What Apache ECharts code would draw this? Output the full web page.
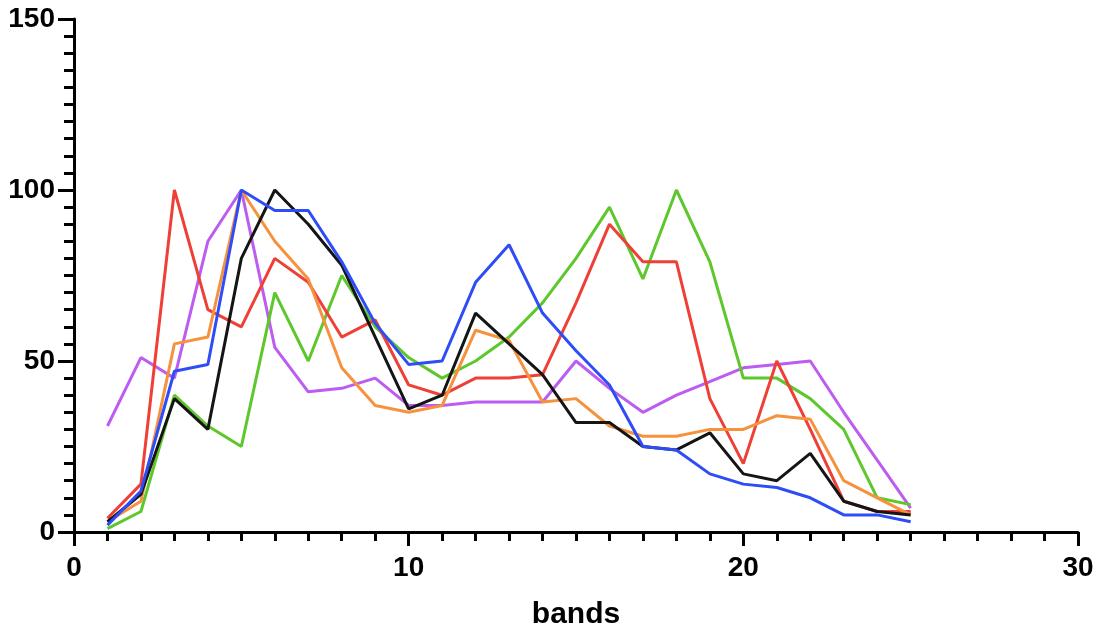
<!DOCTYPE html>
<html>
<head>
<meta charset="utf-8">
<script src="https://cdn.jsdelivr.net/npm/echarts@6/dist/echarts.min.js"></script>
<style>
  html, body { margin: 0; padding: 0; background: #fff; }
  #chart { width: 1106px; height: 634px; }
</style>
</head>
<body>
<div id="chart"></div>
<script>
// band index 1..25
const bands = [1,2,3,4,5,6,7,8,9,10,11,12,13,14,15,16,17,18,19,20,21,22,23,24,25];

const purpleVals = [31,51,45,85,100,54,41,42,45,37,37,38,38,38,50,42,35,40,44,48,49,50,35,21,7];
const greenVals  = [1,6,40,31,25,70,50,75,60,51,45,50,57,67,80,95,74,100,79,45,45,39,30,10,8];
const redVals    = [4,14,100,65,60,80,73,57,62,43,40,45,45,46,67,90,79,79,39,20,50,30,9,6,6];
const orangeVals = [3,9,55,57,100,85,74,48,37,35,37,59,56,38,39,31,28,28,30,30,34,33,15,10,5];
const blackVals  = [3,11,39,30,80,100,90,78,57,36,40,64,55,46,32,32,25,24,29,17,15,23,9,6,5];
const blueVals   = [2,12,47,49,100,94,94,79,61,49,50,73,84,64,53,43,25,24,17,14,13,10,5,5,3];

const xTicks = [0, 10, 20, 30];
const yTicks = [0, 50, 100, 150];

const seriesDefs = [
  { name: 'purple', color: '#BD5CF0', values: purpleVals },
  { name: 'green',  color: '#5DC72C', values: greenVals },
  { name: 'red',    color: '#EE4036', values: redVals },
  { name: 'orange', color: '#F6923E', values: orangeVals },
  { name: 'black',  color: '#151515', values: blackVals },
  { name: 'blue',   color: '#2E4DF6', values: blueVals }
];

const labelFont = {
  color: '#000',
  fontFamily: 'Liberation Sans, Arial, sans-serif',
  fontWeight: 'bold',
  fontSize: 28
};

const chart = echarts.init(document.getElementById('chart'), null, { renderer: 'canvas' });

chart.setOption({
  animation: false,
  backgroundColor: '#fff',
  grid: {
    left: 74, right: 28, top: 19, bottom: 102,
    containLabel: false,
    outerBoundsMode: 'none'
  },
  xAxis: {
    type: 'value',
    min: xTicks[0],
    max: xTicks[xTicks.length - 1],
    interval: 10,
    name: 'bands',
    nameLocation: 'middle',
    nameGap: 68,
    nameTextStyle: Object.assign({}, labelFont, { fontSize: 30 }),
    axisLine: { show: true, lineStyle: { color: '#000', width: 3 } },
    axisTick: { show: true, length: 14, lineStyle: { color: '#000', width: 3 } },
    minorTick: { show: true, splitNumber: 10, length: 9, lineStyle: { color: '#000', width: 3 } },
    axisLabel: Object.assign({ margin: 22 }, labelFont),
    splitLine: { show: false },
    minorSplitLine: { show: false }
  },
  yAxis: {
    type: 'value',
    min: yTicks[0],
    max: yTicks[yTicks.length - 1],
    interval: 50,
    axisLine: { show: true, lineStyle: { color: '#000', width: 3 } },
    axisTick: { show: true, length: 16, lineStyle: { color: '#000', width: 3 } },
    minorTick: { show: true, splitNumber: 10, length: 10, lineStyle: { color: '#000', width: 3 } },
    axisLabel: Object.assign({ margin: 19 }, labelFont),
    splitLine: { show: false },
    minorSplitLine: { show: false }
  },
  series: seriesDefs.map(s => ({
    name: s.name,
    type: 'line',
    data: bands.map((b, i) => [b, s.values[i]]),
    showSymbol: false,
    symbol: 'none',
    lineStyle: { color: s.color, width: 3 },
    itemStyle: { color: s.color },
    z: 2
  }))
});
</script>
</body>
</html>
